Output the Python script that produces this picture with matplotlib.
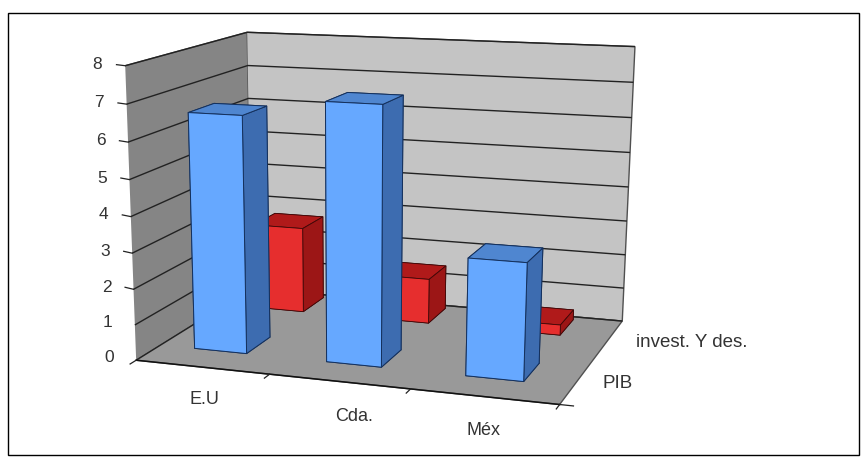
import numpy as np
import matplotlib
matplotlib.use("Agg")
import matplotlib.pyplot as plt
from matplotlib.patches import Rectangle
from mpl_toolkits.mplot3d import Axes3D  # noqa: F401

plt.rcParams["font.family"] = ["Liberation Sans", "DejaVu Sans"]

categories = ["E.U", "Cda.", "Méx"]
series_names = ["PIB", "invest. Y des."]
pib = [6.6, 7.08, 3.2]
invest = [2.55, 1.32, 0.3]
z_ticks = list(range(0, 9))

W, H = 867, 471
fig = plt.figure(figsize=(W / 100, H / 100), dpi=100)
fig.patches.append(Rectangle((8 / W, 1 - 455 / H), 851 / W, 442 / H, zorder=-1,
                             transform=fig.transFigure, fc="white", ec="black", lw=1))

# square axes as wide as the figure, mplot3d forces a square box anyway
ax = fig.add_axes([0, (H - W) / 2 / H, 1, W / H], projection="3d", computed_zorder=False)
ax.patch.set_alpha(0)
ax.set_xlim(0, 3)
ax.set_ylim(0, 2)
ax.set_zlim(0, 8)
ax.apply_aspect()

# excel's 3d box does not come from a real camera, so fit the projection to the box corners
box = [(0, 0, 0), (3, 0, 0), (3, 2, 0), (0, 2, 0), (0, 0, 8), (0, 2, 8), (3, 2, 8)]
box_px = [(137, 353), (561, 410), (622, 315), (250, 296), (123, 68), (250, 29), (634, 48)]
uv = ax.transData.inverted().transform([(px, H - py) for px, py in box_px])
rows, rhs = [], []
for (x, y, z), (u, v) in zip(box, uv):
    rows.append([x, y, z, 1, 0, 0, 0, 0, -u * x, -u * y, -u * z])
    rows.append([0, 0, 0, 0, x, y, z, 1, -v * x, -v * y, -v * z])
    rhs += [u, v]
h = np.linalg.lstsq(np.array(rows), np.array(rhs), rcond=None)[0]
proj = np.array([
    h[:4],
    h[4:8],
    [-0.1, 0.5, -0.0125, 0.0],  # depth only used for sorting and picking walls
    [h[8], h[9], h[10], 1.0],
])
ax.get_proj = lambda: proj

ax.xaxis.set_pane_color("#858585", alpha=1)
ax.yaxis.set_pane_color("#c4c4c4", alpha=1)
ax.zaxis.set_pane_color("#999999", alpha=1)
ax.set_xticks([])
ax.set_yticks([])
ax.set_zticks(z_ticks, [""] * len(z_ticks))
ax.grid(True)
ax.zaxis._axinfo["grid"].update(color="#222222", linewidth=1.0, linestyle="-")
ax.zaxis._axinfo["tick"].update(inward_factor=0, outward_factor=0)
for a in (ax.xaxis, ax.yaxis, ax.zaxis):
    a.pane.set_edgecolor("#505050")
    a.line.set_color((0, 0, 0, 0))

for z in z_ticks:
    ax.plot([-0.08, 0], [0.03, 0], [z, z], color="#222222", lw=0.9, zorder=1.5)
    ax.text(-0.17, 0, z, str(z), ha="right", va="center", fontsize=12.5, color="#333333", zorder=5)

# floor edges and ticks
ax.plot([0, 3, 3], [0, 0, 2], [0, 0, 0], color="#111111", lw=1.1, zorder=1.5)
for i in range(4):
    ax.plot([i, i], [0, -0.09], [0, 0], color="#222222", lw=0.9, zorder=1.5)
for j in range(3):
    ax.plot([3, 3.09], [j, j], [0, 0], color="#222222", lw=0.9, zorder=1.5)

w = 0.4
d = 0.42
blue = ["#4f81c8", "#4f86d0", "#66a8ff", "#3d6cb0", "#3d6cb0", "#3d6cb0"]
red = ["#8c1010", "#b01a1a", "#e62e2e", "#9c1616", "#9c1616", "#9c1616"]
for i in range(3):
    ax.bar3d(i + 0.245, 1.5, 0, w, d, invest[i], color=red, shade=False,
             edgecolor="#400808", linewidth=0.6, zorder=2)
for i in range(3):
    ax.bar3d(i + 0.265, 0.38, 0, w, d, pib[i], color=blue, shade=False,
             edgecolor="#14305c", linewidth=0.7, zorder=3)

# the category labels are not evenly spaced in the original
label_x = [0.81, 1.83, 2.67]
for lx, c in zip(label_x, categories):
    ax.text(lx, -0.62, 0, c, ha="center", va="center", fontsize=13, color="#333333", zorder=5)
ax.text(3.17, 0.5, 0, series_names[0], ha="left", va="center", fontsize=13.5, color="#333333", zorder=5)
ax.text(3.2, 1.5, 0, series_names[1], ha="left", va="center", fontsize=13.5, color="#333333", zorder=5)

fig.savefig("out.png", dpi=100)
